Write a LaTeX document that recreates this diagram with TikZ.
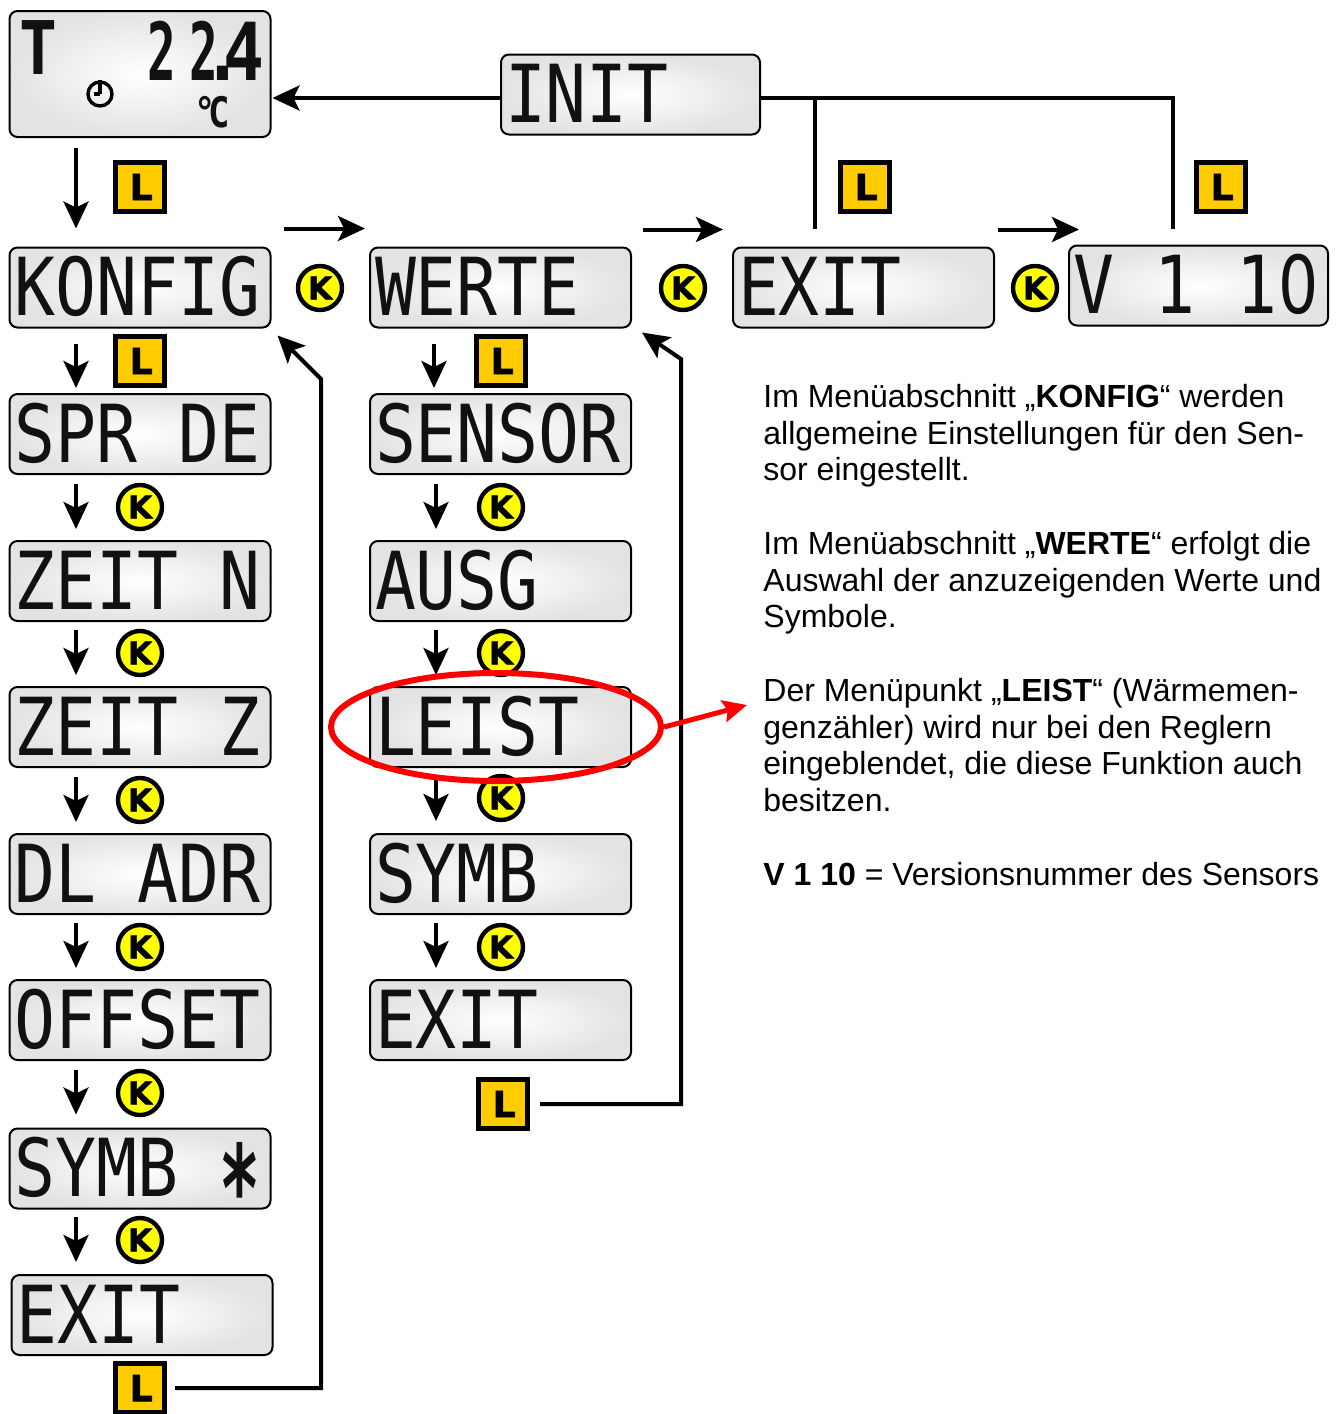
\documentclass[tikz,border=0pt]{standalone}
\usepackage{fontspec}
\setmainfont{Liberation Sans}
\newfontfamily\lcdfont[FakeStretch=0.85]{DejaVu Sans Mono}
\newfontfamily\lcdzerofont[FakeStretch=0.79]{DejaVu Sans}
\newfontfamily\keyfont[FakeBold=2]{DejaVu Sans Bold}
\usetikzlibrary{arrows.meta,calc,shapes.geometric}
\definecolor{lcdink}{HTML}{111111}
\definecolor{keyL}{HTML}{FFCC00}
\definecolor{keyK}{HTML}{FFFF00}
\newcommand\lcdchars[1]{\makebox[125.5pt][l]{#1}}
\newcommand\lcdstar{\makebox[20.5pt]{\raisebox{-17.5pt}{\scalebox{1.0}[1.5]{\bfseries *}}}}
\newcommand\lcdzero{\makebox[20.5pt]{\lcdzerofont 0}}
\newcommand\narrowtwo{\scalebox{0.7}[1]{2}}
\tikzset{
  lcdbox/.style={rectangle,rounded corners=4pt,draw=black,line width=1pt,shade,inner color=white,outer color=black!11,
    inner xsep=2.5pt,inner ysep=5pt,text height=29pt,text depth=1pt,text=lcdink,
    font=\lcdfont\fontsize{40}{40}\selectfont},
  lcdplain/.style={text=lcdink,inner sep=0pt,font=\lcdfont\bfseries\fontsize{40}{40}\selectfont},
  lkey/.style={rectangle,draw=black,line width=2.5pt,fill=keyL,minimum size=24.5pt,inner sep=0pt,
    font=\keyfont\fontsize{18}{18}\selectfont},
  kkey/.style={circle,draw=black,line width=2.2pt,fill=keyK,minimum size=22pt,inner sep=0pt,
    font=\keyfont\fontsize{15.5}{15.5}\selectfont},
  arr/.style={line width=2pt,draw=black,-{Stealth[length=13.5pt,width=12.5pt,inset=3pt]}},
  conn/.style={line width=2pt,draw=black},
  para/.style={inner sep=0pt,anchor=north west,align=left,font=\fontsize{16}{18.35}\selectfont,text=black},
  redring/.style={ellipse,draw=red,line width=3pt,minimum width=165pt,minimum height=54pt,inner sep=0pt},
  redarr/.style={draw=red,line width=2.5pt,-{Stealth[length=12pt,width=11pt,inset=2pt]}}
}
\begin{document}
\begin{tikzpicture}[x=0.5pt,y=-0.5pt]
\useasboundingbox (0,0) rectangle (1335,1414);
% status display
\node[rectangle,rounded corners=4pt,draw=black,line width=1pt,shade,inner color=white,outer color=black!11,
  minimum width=130.5pt,minimum height=63pt,inner sep=0pt] (status) at (140,74) {};
\node[lcdplain,anchor=base] (statT) at (38,74) {\fontsize{37}{37}\selectfont T};
\node[lcdplain,anchor=base east] (statV) at (265,80) {\narrowtwo\kern6.6pt\narrowtwo\kern-7.75pt.\kern-9.75pt 4};
\node[circle,draw=black,line width=1.7pt,minimum size=12pt,inner sep=0pt] (clock) at (100,94) {};
\draw[line width=1.7pt] (clock.center) -- (clock.north);
\draw[line width=1.7pt] (clock.center) -- ++(-6,0);
\node[lcdplain,anchor=base] (statC) at (212,127) {\fontsize{21}{21}\selectfont °\kern-3.5pt C};
% displays
\node[lcdbox,inner xsep=2pt] (init) at (630.5,94.5) {\lcdchars{INIT}};
\node[lcdbox] (konfig) at (140,287.5) {\lcdchars{KONFIG}};
\node[lcdbox] (werte) at (500.5,287.5) {\lcdchars{WERTE}};
\node[lcdbox] (exitt) at (863.5,287.5) {\lcdchars{EXIT}};
\node[lcdbox,inner xsep=2pt] (vers) at (1198.5,285.5) {\lcdchars{V 1 1\lcdzero}};
\node[lcdbox] (spr) at (140,434) {\lcdchars{SPR DE}};
\node[lcdbox] (zeitn) at (140,581) {\lcdchars{ZEIT N}};
\node[lcdbox] (zeitz) at (140,727) {\lcdchars{ZEIT Z}};
\node[lcdbox] (dladr) at (140,874) {\lcdchars{DL ADR}};
\node[lcdbox] (offset) at (140,1020) {\lcdchars{OFFSET}};
\node[lcdbox] (symbl) at (140,1168.5) {\lcdchars{SYMB \lcdstar}};
\node[lcdbox] (exitl) at (142,1315) {\lcdchars{EXIT}};
\node[lcdbox] (sensor) at (500.5,434) {\lcdchars{SENSOR}};
\node[lcdbox] (ausg) at (500.5,581) {\lcdchars{AUSG}};
\node[lcdbox] (leist) at (500.5,727) {\lcdchars{LEIST}};
\node[lcdbox] (symbm) at (500.5,874) {\lcdchars{SYMB}};
\node[lcdbox] (exitm) at (500.5,1020) {\lcdchars{EXIT}};
% keys
\node[lkey] (l1) at (140,187) {\kern1.2pt L};
\node[lkey] (l2) at (140,361) {\kern1.2pt L};
\node[lkey] (l3) at (865,187) {\kern1.2pt L};
\node[lkey] (l4) at (1221,187) {\kern1.2pt L};
\node[lkey] (l5) at (501,361) {\kern1.2pt L};
\node[lkey] (l6) at (503,1104) {\kern1.2pt L};
\node[lkey] (l7) at (140,1388) {\kern1.2pt L};
\node[kkey] (k1) at (320,288) {K};
\node[kkey] (k2) at (683,288) {K};
\node[kkey] (k3) at (1035,288) {K};
\node[kkey] (k4) at (140,507) {K};
\node[kkey] (k5) at (140,653) {K};
\node[kkey] (k6) at (140,800) {K};
\node[kkey] (k7) at (140,947) {K};
\node[kkey] (k8) at (140,1093) {K};
\node[kkey] (k9) at (140,1240) {K};
\node[kkey] (k10) at (501,507) {K};
\node[kkey] (k11) at (501,653) {K};
\node[kkey] (k12) at (501,798) {K};
\node[kkey] (k13) at (501,947) {K};
% top connectors
\draw[arr] ([shift={(0,3.5)}]init.west) -- ([shift={(1,24)}]status.east);
\draw[conn] ([shift={(-25.5,-16)}]vers.north) |- ([shift={(0,3.5)}]init.east);
\draw[conn] ([shift={(-48.5,-18)}]exitt.north) |- ([shift={(0,3.5)}]init.east);
% downward arrows, left column
\draw[arr] ([shift={(-64,10)}]status.south) -- ([shift={(-64,-18)}]konfig.north);
\draw[arr] ([shift={(-64,15)}]konfig.south) -- ([shift={(-64,-5)}]spr.north);
\draw[arr] ([shift={(-64,9)}]spr.south) -- ([shift={(-64,-11)}]zeitn.north);
\draw[arr] ([shift={(-64,8)}]zeitn.south) -- ([shift={(-64,-11)}]zeitz.north);
\draw[arr] ([shift={(-64,9)}]zeitz.south) -- ([shift={(-64,-11)}]dladr.north);
\draw[arr] ([shift={(-64,8)}]dladr.south) -- ([shift={(-64,-11)}]offset.north);
\draw[arr] ([shift={(-64,9)}]offset.south) -- ([shift={(-64,-13)}]symbl.north);
\draw[arr] ([shift={(-64,7)}]symbl.south) -- ([shift={(-66,-12)}]exitl.north);
% downward arrows, middle column
\draw[arr] ([shift={(-66.5,15)}]werte.south) -- ([shift={(-66.5,-5)}]sensor.north);
\draw[arr] ([shift={(-64.5,9)}]sensor.south) -- ([shift={(-64.5,-11)}]ausg.north);
\draw[arr] ([shift={(-64.5,8)}]ausg.south) -- ([shift={(-64.5,-11)}]leist.north);
\draw[arr] ([shift={(-64.5,8)}]leist.south) -- ([shift={(-64.5,-12)}]symbm.north);
\draw[arr] ([shift={(-64.5,8)}]symbm.south) -- ([shift={(-64.5,-11)}]exitm.north);
% horizontal arrows
\draw[arr] ([shift={(12,-18)}]konfig.north east) -- ([shift={(-4,-18)}]werte.north west);
\draw[arr] ([shift={(11,-17)}]werte.north east) -- ([shift={(-9,-17)}]exitt.north west);
\draw[arr] ([shift={(3,-17)}]exitt.north east) -- ([shift={(11,-15)}]vers.north west);
% return lines
\draw[arr] ([xshift=4pt]l7.east) -- ++(146,0) coordinate (retL) -- ++(0,-1009) -- ([shift={(6,7)}]konfig.south east);
\draw[arr] ([xshift=5pt]l6.east) -- ++(141,0) coordinate (retM) -- ++(0,-745) -- ([shift={(10,4)}]werte.south east);
% red ring
\node[redring] (ring) at (496,727) {};
\draw[redarr] (ring.east) -- ++(83,-22) coordinate (redtip);
% text
\node[para] (p1) at (763,384) {Im Menüabschnitt „\textbf{KONFIG}“ werden\\allgemeine Einstellungen für den Sen-\\sor eingestellt.};
\node[para] (p2) at (763,531) {Im Menüabschnitt „\textbf{WERTE}“ erfolgt die\\Auswahl der anzuzeigenden Werte und\\Symbole.};
\node[para] (p3) at (763,678) {Der Menüpunkt „\textbf{LEIST}“ (Wärmemen-\\genzähler) wird nur bei den Reglern\\eingeblendet, die diese Funktion auch\\besitzen.};
\node[para] (p4) at (763,862) {\textbf{V 1 10} = Versionsnummer des Sensors};
\end{tikzpicture}
\end{document}
